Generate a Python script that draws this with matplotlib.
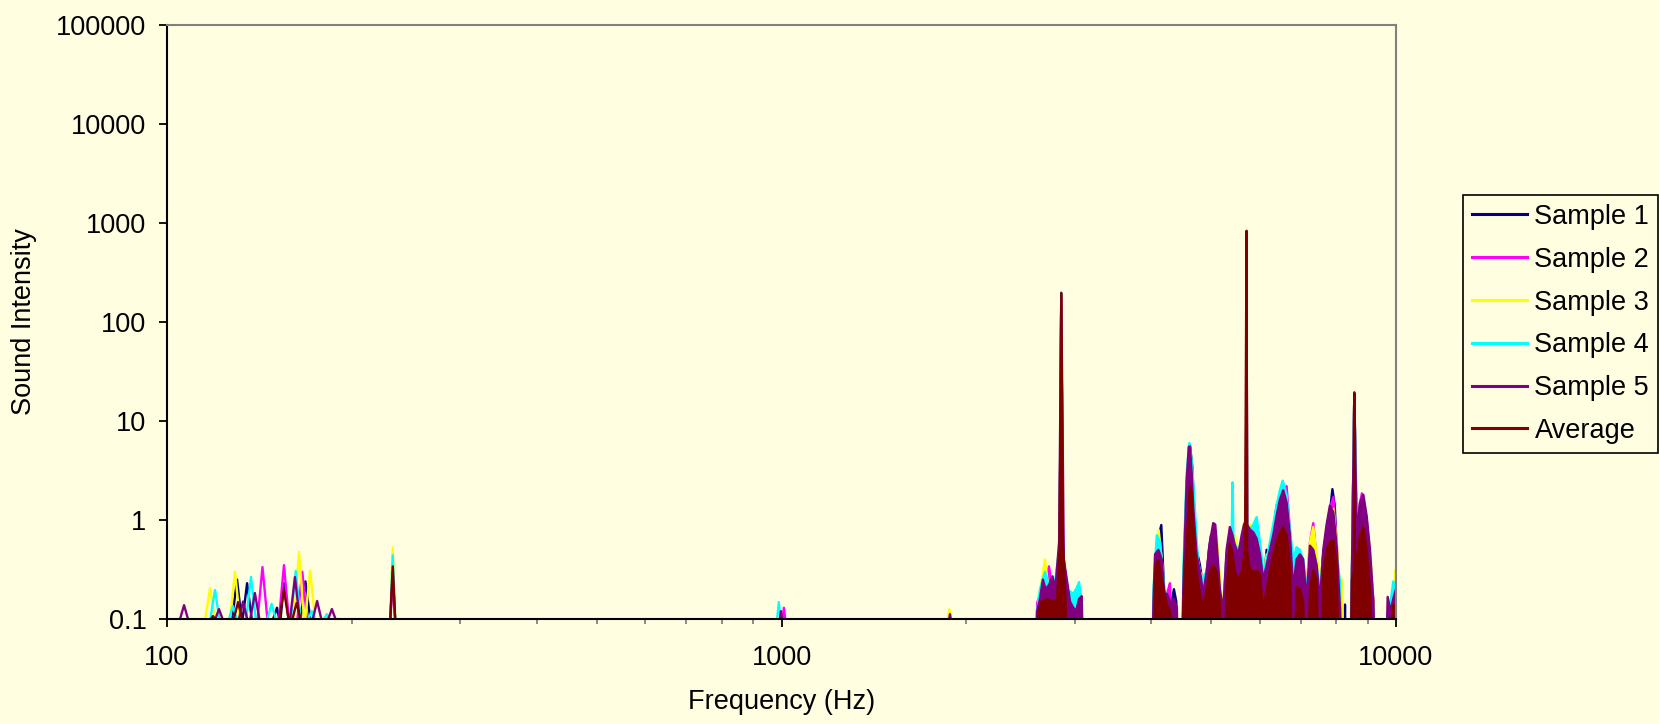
import numpy as np
import matplotlib.pyplot as plt
from matplotlib.ticker import NullLocator

plt.rcParams['font.family'] = ['Liberation Sans', 'DejaVu Sans']

bg = '#FFFEE0'

names = ['Sample 1', 'Sample 2', 'Sample 3', 'Sample 4', 'Sample 5', 'Average']
colors = ['#000080', '#FF00FF', '#FFFF00', '#00FFFF', '#800080', '#800000']

# (frequency Hz, intensity); values under 0.1 sit below the axis floor
sample1 = [
    (127.4, .09), (130, .25), (132.5, .09), (135, .23), (137.7, .09),
    (148, .09), (151, .13), (152.8, .09), (155, .23), (158, .09),
    (164.6, .09), (168, .24), (171.4, .09),
    (2590, .01), (2606, .12), (2634, .15), (2663, .2), (2700, .18), (2761, .22), (2808, .2),
    (2835, .4), (2853, 190), (2870, .5), (2913, .2), (2948, .155), (2984, .12), (3015, .01),
    (4030, .01), (4054, .3), (4090, .6), (4150, .89), (4170, .45), (4200, .15), (4288, .12),
    (4351, .2), (4390, .15), (4423, .01), (4490, .01), (4506, .18), (4540, .9), (4590, 3.5),
    (4621, 5.7), (4660, 3.5), (4690, 1.5), (4737, .5), (4797, .35), (4857, .2), (4918, .25),
    (4960, .5), (5000, .7), (5042, .6), (5105, .4), (5169, .2), (5234, .12), (5300, .4),
    (5366, .7), (5420, .6), (5470, .5), (5538, .4), (5608, .55), (5660, .7), (5700, .8),
    (5712, 820), (5724, .8), (5787, .7), (5859, .75), (5932, .8), (6007, .5), (6082, .2),
    (6158, .5), (6235, .4), (6313, .6), (6392, 1.0), (6472, 1.3), (6553, 1.7), (6637, 1.4),
    (6720, .6), (6804, .3), (6889, .35), (6976, .4), (7063, .3), (7152, .18), (7244, .45),
    (7335, .6), (7427, .3), (7520, .18), (7614, .45), (7710, .8), (7806, 1.2), (7880, 2.05),
    (7950, 1.4), (8006, .5), (8106, .15), (8180, .01), (8240, .01), (8260, .14), (8280, .01),
    (8420, .01), (8480, .3), (8554, 19), (8630, .6), (8738, 1.0), (8847, 1.3), (8959, .9),
    (9071, .4), (9186, .15), (9300, .01), (10000, .01),
]

sample2 = [
    (140.2, .09), (143, .335), (145.9, .09), (151.9, .09), (155, .35), (158.1, .09),
    (162.7, .09), (166, .3), (169.3, .09), (230.7, .09), (233, .25), (235.3, .09),
    (1002, .09), (1009, .13), (1016, .09),
    (2590, .01), (2606, .145), (2650, .2), (2700, .25), (2724, .34), (2761, .2), (2808, .25),
    (2835, .5), (2853, 195), (2870, .5), (2913, .15), (2970, .17), (2984, .168), (3000, .01),
    (4030, .01), (4054, .15), (4105, .5), (4157, .35), (4200, .15), (4260, .2), (4288, .23),
    (4320, .01), (4490, .01), (4506, .2), (4564, 2.5), (4621, 5.0), (4650, 3.2), (4679, 1.4),
    (4737, .4), (4797, .3), (4857, .2), (4918, .3), (4980, .55), (5042, .8), (5105, .55),
    (5169, .18), (5234, .12), (5300, .45), (5366, .75), (5420, .6), (5470, .45), (5538, .4),
    (5608, .6), (5660, .8), (5700, .9), (5712, 835), (5724, .9), (5787, .75), (5859, .65),
    (5932, .7), (6007, .45), (6082, .2), (6158, .35), (6235, .5), (6313, .8), (6392, 1.4),
    (6472, 1.7), (6553, 2.0), (6637, 2.2), (6720, .8), (6804, .3), (6889, .35), (6976, .4),
    (7063, .35), (7152, .2), (7244, .6), (7335, .93), (7427, .4), (7520, .2), (7614, .45),
    (7710, .8), (7806, 1.3), (7907, 1.7), (8006, .6), (8106, .15), (8200, .01), (8420, .01),
    (8480, .3), (8554, 19), (8630, .8), (8738, 1.5), (8800, 1.86), (8847, 1.6), (8959, 1.0),
    (9071, .45), (9186, .15), (9300, .01), (9900, .01), (10000, .12),
]

sample3 = [
    (115.1, .09), (117.5, .206), (119.9, .09), (126.4, .09), (129, .30), (131.6, .09),
    (160.7, .09), (164, .475), (167.3, .09), (167.6, .09), (171, .31), (174.4, .09),
    (230.7, .09), (233, .53), (235.3, .09), (1860, .09), (1876, .126), (1892, .09),
    (2590, .01), (2620, .15), (2684, .40), (2720, .2), (2761, .25), (2808, .22), (2835, .5),
    (2853, 195), (2870, .5), (2913, .18), (2984, .15), (3015, .187), (3040, .01),
    (4030, .01), (4054, .2), (4110, .79), (4157, .4), (4200, .15), (4300, .13), (4400, .12),
    (4423, .01), (4490, .01), (4506, .25), (4564, 2.3), (4621, 4.5), (4660, 3.0), (4690, 1.2),
    (4737, .45), (4797, .3), (4857, .25), (4918, .3), (4980, .5), (5042, .75), (5105, .7),
    (5169, .25), (5234, .12), (5300, .45), (5366, .7), (5400, .55), (5470, .7), (5538, .5),
    (5608, .6), (5660, .9), (5700, .8), (5712, 840), (5724, .85), (5787, .9), (5859, .7),
    (5932, .65), (6007, .45), (6082, .25), (6158, .45), (6235, .45), (6313, .6), (6392, 1.0),
    (6472, 1.5), (6553, 1.8), (6637, 1.3), (6720, .7), (6804, .4), (6889, .35), (6976, .4),
    (7063, .35), (7152, .2), (7244, .6), (7335, .85), (7427, .45), (7520, .25), (7614, .4),
    (7710, .7), (7806, 1.1), (7907, 1.3), (8006, .6), (8106, .2), (8180, .25), (8200, .01),
    (8420, .01), (8480, .3), (8554, 19), (8630, .6), (8738, 1.2), (8847, 1.5), (8959, 1.0),
    (9071, .5), (9186, .15), (9300, .01), (9900, .01), (9960, .31), (10000, .31),
]

sample4 = [
    (117.3, .09), (119.7, .196), (122, .09), (125.5, .09), (128, .135), (130.5, .09),
    (134.3, .09), (137, .266), (139.7, .09), (145, .09), (148, .142), (151, .09),
    (158.8, .09), (162, .305), (165.2, .09), (168.6, .09), (172, .12), (175.4, .09),
    (178.4, .09), (182, .112), (185.6, .09), (230.7, .09), (233, .44), (235.3, .09),
    (982, .09), (990, .148), (998, .09),
    (2590, .01), (2606, .12), (2634, .2), (2684, .3), (2724, .22), (2790, .25), (2835, .55),
    (2853, 200), (2870, .5), (2913, .2), (2984, .18), (3015, .2), (3050, .236), (3080, .15),
    (3107, .01),
    (4000, .01), (4030, .2), (4080, .7), (4130, .6), (4200, .2), (4300, .12), (4423, .01),
    (4490, .01), (4506, .3), (4564, 3.0), (4610, 6.0), (4650, 4.0), (4700, 1.5), (4760, .4),
    (4820, .25), (4918, .3), (4980, .5), (5042, .7), (5105, .5), (5169, .18), (5234, .12),
    (5300, .45), (5400, .6), (5420, 2.4), (5440, .6), (5538, .5), (5608, .6), (5700, .8),
    (5712, 800), (5724, .8), (5787, .8), (5859, .9), (5932, 1.07), (6007, .6), (6082, .3),
    (6158, .4), (6235, .6), (6313, .9), (6392, 1.4), (6472, 2.0), (6540, 2.5), (6637, 1.8),
    (6720, .8), (6804, .4), (6889, .53), (6976, .5), (7063, .4), (7152, .2), (7244, .4),
    (7335, .5), (7427, .35), (7520, .2), (7614, .4), (7710, .8), (7806, 1.2), (7907, .9),
    (8006, .45), (8106, .24), (8200, .01), (8420, .01), (8480, .3), (8554, 19), (8630, 1.1),
    (8738, 1.3), (8847, 1.2), (8959, .8), (9071, .35), (9186, .12), (9300, .01), (9700, .01),
    (9800, .15), (9899, .24), (10000, .2),
]

sample5 = [
    (104.5, .09), (106.6, .138), (108.7, .09), (119.1, .09), (121.5, .126), (123.9, .09),
    (130.4, .09), (133, .15), (135.6, .09), (136.2, .09), (139, .183), (141.8, .09),
    (158.3, .09), (161.5, .265), (164.7, .09), (172, .09), (175.5, .152), (179, .09),
    (181.8, .09), (185.5, .126), (189.2, .09), (230.7, .09), (233, .3), (235.3, .09),
    (992, .09), (998, .12), (1004, .09), (1870, .09), (1880, .112), (1890, .09),
    (2590, .01), (2606, .12), (2634, .16), (2663, .25), (2690, .2), (2724, .22), (2761, .27),
    (2790, .2), (2830, .6), (2853, 195), (2880, .4), (2913, .25), (2948, .15), (2984, .13),
    (3015, .12), (3050, .16), (3080, .17), (3107, .01),
    (4000, .01), (4030, .15), (4054, .45), (4105, .5), (4157, .4), (4200, .17), (4236, .18),
    (4288, .15), (4351, .16), (4400, .13), (4423, .01), (4480, .01), (4506, .2), (4564, 2.5),
    (4600, 5.5), (4621, 5.5), (4650, 3.0), (4679, 1.3), (4737, .45), (4797, .3), (4857, .18),
    (4918, .3), (4980, .6), (5042, .93), (5080, .9), (5105, .6), (5169, .2), (5234, .12),
    (5300, .5), (5366, .85), (5420, .7), (5470, .55), (5538, .45), (5608, .7), (5657, .9),
    (5700, 1.0), (5712, 830), (5724, .9), (5787, .8), (5859, .75), (5932, .65), (6007, .45),
    (6082, .25), (6158, .35), (6235, .5), (6313, .7), (6392, 1.1), (6472, 1.6), (6553, 2.0),
    (6637, 1.5), (6720, .7), (6804, .2), (6889, .4), (6976, .45), (7063, .4), (7152, .15),
    (7244, .55), (7335, .5), (7427, .35), (7520, .15), (7614, .5), (7710, .9), (7806, 1.4),
    (7907, 1.2), (8006, .55), (8106, .13), (8200, .01), (8420, .01), (8480, .35), (8554, 19.5),
    (8630, .7), (8738, 1.5), (8847, 1.8), (8959, 1.1), (9071, .5), (9186, .15), (9300, .01),
    (9596, .01), (9692, .167), (9800, .12), (9899, .16), (10000, .2),
]

average = [
    (116.4, .09), (118.8, .107), (121.2, .09), (127.9, .09), (130.5, .148), (133.1, .09),
    (151.9, .09), (155, .197), (158.1, .09), (159.3, .09), (162.5, .145), (165.7, .09),
    (230.7, .09), (233, .34), (235.3, .09),
    (2590, .01), (2620, .12), (2650, .15), (2700, .16), (2761, .15), (2808, .155),
    (2835, .5), (2853, 196), (2870, .6), (2900, .15), (2913, .01),
    (4030, .01), (4060, .36), (4105, .39), (4160, .25), (4236, .14), (4290, .12), (4350, .01),
    (4460, .01), (4506, .13), (4564, .6), (4621, 2.17), (4650, 1.9), (4679, .9), (4737, .3),
    (4797, .18), (4857, .13), (4918, .2), (4980, .3), (5042, .35), (5105, .3), (5169, .14),
    (5234, .01), (5300, .2), (5366, .58), (5420, .45), (5470, .3), (5538, .25), (5608, .3),
    (5680, .5), (5712, 830), (5724, .5), (5787, .31), (5859, .3), (5932, .31), (6007, .28),
    (6082, .12), (6158, .2), (6235, .3), (6313, .45), (6392, .6), (6472, .75), (6553, .85),
    (6637, .7), (6720, .35), (6804, .01), (6889, .21), (6976, .2), (7063, .15), (7152, .01),
    (7244, .2), (7335, .31), (7427, .25), (7520, .01), (7614, .3), (7710, .5), (7806, .6),
    (7907, .63), (8006, .35), (8106, .01), (8260, .01), (8415, .01), (8480, .25), (8540, .3),
    (8554, 19.2), (8568, .3), (8630, .4), (8738, .7), (8847, .85), (8959, .5), (9071, .2),
    (9186, .01), (9600, .01), (9899, .14), (10000, .13),
]

all_series = [sample1, sample2, sample3, sample4, sample5, average]

x_major = [100, 1000, 10000]
x_minor = [200, 300, 400, 500, 600, 700, 800, 900,
           2000, 3000, 4000, 5000, 6000, 7000, 8000, 9000]
y_ticks = [0.1, 1, 10, 100, 1000, 10000, 100000]
y_labels = ['0.1', '1', '10', '100', '1000', '10000', '100000']

W, H = 1659, 724
fig = plt.figure(figsize=(W / 100, H / 100), dpi=100, facecolor=bg)
ax = fig.add_axes([167 / W, (H - 619) / H, (1396 - 167) / W, (619 - 25) / H])
ax.set_facecolor(bg)
ax.set_xscale('log')
ax.set_yscale('log')

for i, (data, name, c) in enumerate(zip(all_series, names, colors)):
    arr = np.array(data)
    f, v = arr[:, 0], arr[:, 1]
    dense = f >= 2500
    z = 1 + i * 0.1
    ax.fill_between(f[dense], 0.01, v[dense], color=c, lw=0, zorder=z)
    ax.plot(f, v, color=c, lw=1.7, label=name, zorder=z + 0.05)

ax.set_xlim(100, 10000)
ax.set_ylim(0.1, 100000)

ax.set_xticks(x_major, labels=[str(t) for t in x_major])
ax.set_xticks(x_minor, minor=True)
ax.set_xticklabels([], minor=True)
ax.set_yticks(y_ticks, labels=y_labels)
ax.yaxis.set_minor_locator(NullLocator())

ax.tick_params(which='major', direction='out', length=5.8, width=1.3,
               color='black', labelsize=19.5)
ax.tick_params(axis='x', which='major', pad=13)
ax.tick_params(axis='y', which='major', pad=9)
ax.tick_params(which='minor', direction='out', length=3.6, width=1.3, color='#808080')

for s in ['left', 'bottom']:
    ax.spines[s].set_color('black')
    ax.spines[s].set_linewidth(1.5)
for s in ['top', 'right']:
    ax.spines[s].set_color('#808080')
    ax.spines[s].set_linewidth(1.5)

ax.set_xlabel('Frequency (Hz)', fontsize=19.5)
ax.set_ylabel('Sound Intensity', fontsize=19.5)
ax.xaxis.set_label_coords(0.5, -(689 - 619) / (619 - 25))
ax.yaxis.set_label_coords(-(167 - 37) / (1396 - 167), 0.5)

leg = ax.legend(loc='upper left', bbox_to_anchor=(1463 / W, 1 - 195 / H),
                bbox_transform=fig.transFigure, borderaxespad=0, fontsize=19.5,
                frameon=True, fancybox=False, framealpha=1, facecolor=bg,
                edgecolor='black', borderpad=0.33, labelspacing=0.62,
                handlelength=2.05, handletextpad=0.26)
leg.get_frame().set_linewidth(1.2)
for line in leg.get_lines():
    line.set_linewidth(2.2)

fig.savefig('out.png', dpi=100, facecolor=bg)
